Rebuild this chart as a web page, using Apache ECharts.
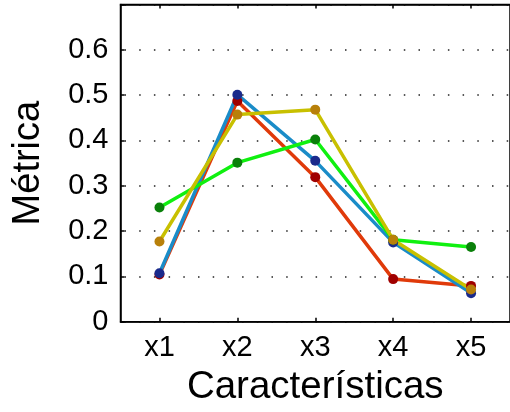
<!DOCTYPE html>
<html>
<head>
<meta charset="utf-8">
<script src="https://cdn.jsdelivr.net/npm/echarts@6/dist/echarts.min.js"></script>
<style>
  html, body { margin: 0; padding: 0; background: #fff; }
  #chart { width: 510px; height: 412px; }
</style>
</head>
<body>
<div id="chart"></div>
<script>
// categories and series values
const categories = ['x1', 'x2', 'x3', 'x4', 'x5']
const redValues = [0.104, 0.487, 0.319, 0.094, 0.079]
const blueValues = [0.107, 0.501, 0.355, 0.175, 0.063]
const greenValues = [0.252, 0.351, 0.402, 0.181, 0.165]
const yellowValues = [0.177, 0.457, 0.468, 0.181, 0.071]
const yTickLabels = ['0', '0.1', '0.2', '0.3', '0.4', '0.5', '0.6']

const FONT = 'Liberation Sans, Arial, sans-serif'

// one line series with dark markers
const makeSeries = (data, lineColor, markerColor) => ({
  type: 'line',
  data: data,
  symbol: 'circle',
  symbolSize: 10,
  showSymbol: true,
  lineStyle: { color: lineColor, width: 3.5 },
  itemStyle: { color: markerColor, borderWidth: 0 },
  emphasis: { disabled: true },
  animation: false
})

const chart = echarts.init(document.getElementById('chart'))

const options = {
  backgroundColor: '#fff',
  animation: false,
  grid: {
    left: 120.5,
    top: 4.5,
    right: -8.5,
    bottom: 90.3,
    show: true,
    borderColor: '#000',
    borderWidth: 1.5,
    backgroundColor: 'transparent'
  },
  xAxis: [
    {
      type: 'category',
      data: categories,
      position: 'bottom',
      boundaryGap: true,
      name: 'Características',
      nameLocation: 'middle',
      nameGap: 43,
      nameTextStyle: { color: '#000', fontSize: 38.5, fontFamily: FONT },
      axisLine: { show: true, lineStyle: { color: '#000', width: 1.5 } },
      axisTick: { show: true, inside: true, length: 4, alignWithLabel: true, lineStyle: { color: '#000', width: 1.5 } },
      axisLabel: { color: '#000', fontSize: 29, fontFamily: FONT, margin: 12 },
      splitLine: { show: false }
    },
    {
      type: 'category',
      data: categories,
      position: 'top',
      boundaryGap: true,
      axisLine: { show: true, lineStyle: { color: '#000', width: 1.5 } },
      axisTick: { show: true, inside: true, length: 4, alignWithLabel: true, lineStyle: { color: '#000', width: 1.5 } },
      axisLabel: { show: false },
      splitLine: { show: false }
    }
  ],
  yAxis: [
    {
      type: 'value',
      min: 0,
      max: 0.7,
      interval: 0.1,
      name: 'Métrica',
      nameLocation: 'middle',
      nameGap: 73,
      nameTextStyle: { color: '#000', fontSize: 38, fontFamily: FONT },
      axisLine: { show: true, lineStyle: { color: '#000', width: 1.5 } },
      axisTick: { show: true, inside: true, length: 4, lineStyle: { color: '#000', width: 1.5 } },
      axisLabel: {
        color: '#000',
        fontSize: 29,
        fontFamily: FONT,
        margin: 12,
        formatter: (v) => {
          const i = Math.round(v * 10)
          return i < yTickLabels.length ? yTickLabels[i] : ''
        }
      },
      splitLine: {
        show: true,
        lineStyle: { color: '#222', width: 1.5, type: [1.5, 13.2], dashOffset: -4 }
      }
    }
  ],
  series: [
    makeSeries(redValues, '#e03a0a', '#a00000'),
    makeSeries(blueValues, '#1a8cc8', '#1a2a8c'),
    makeSeries(greenValues, '#10f010', '#0a800a'),
    makeSeries(yellowValues, '#c8c000', '#b8800a')
  ]
}

chart.setOption(options)
</script>
</body>
</html>
